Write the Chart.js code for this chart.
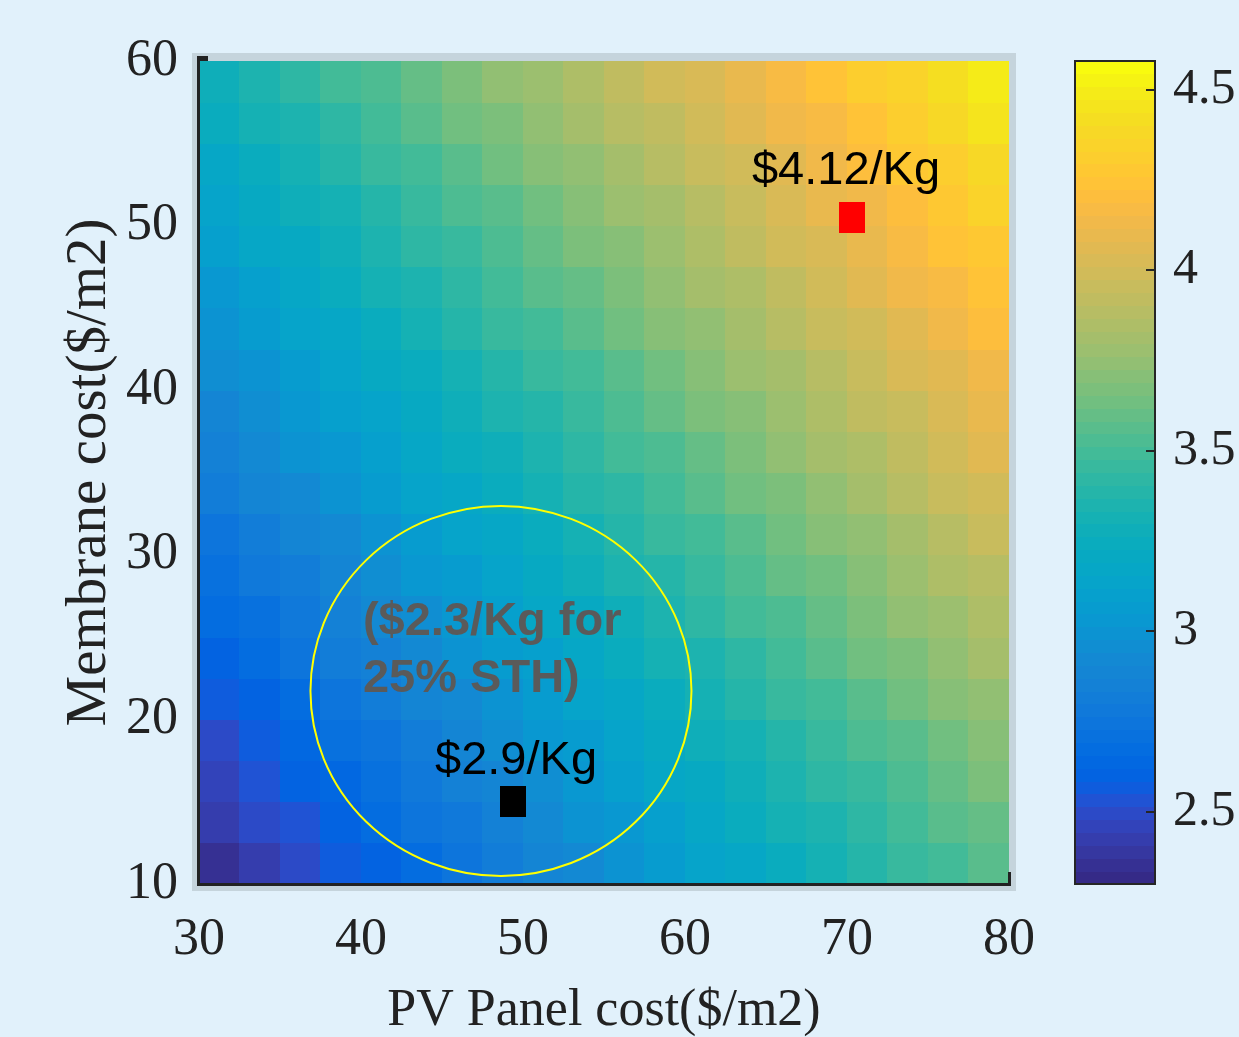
<!DOCTYPE html>
<html><head><meta charset="utf-8">
<script src="https://cdn.jsdelivr.net/npm/chart.js@4.4.1/dist/chart.umd.min.js"></script>
<style>
html,body{margin:0;padding:0;background:#e1f1fb;}
#wrap{position:relative;width:1239px;height:1037px;overflow:hidden;background:#e1f1fb;}
#main{position:absolute;left:0;top:0;}
#cbar{position:absolute;left:1060px;top:0;}
</style></head><body>
<div id="wrap"><canvas id="main" width="1239" height="1037"></canvas><canvas id="cbar" width="179" height="1037"></canvas></div>
<script>
// ---------- data ----------
// cell centres (PV panel cost, $/m2) and (membrane cost, $/m2)
const pvCellCenters = [31.25,33.75,36.25,38.75,41.25,43.75,46.25,48.75,51.25,53.75,56.25,58.75,61.25,63.75,66.25,68.75,71.25,73.75,76.25,78.75];
const membraneCellCenters = [11.25,13.75,16.25,18.75,21.25,23.75,26.25,28.75,31.25,33.75,36.25,38.75,41.25,43.75,46.25,48.75,51.25,53.75,56.25,58.75];
// hydrogen cost ($/Kg), one row per membrane cost (bottom row first)
const costGrid = [
 [2.37,2.43,2.49,2.55,2.62,2.68,2.74,2.81,2.87,2.93,3.00,3.06,3.12,3.18,3.25,3.31,3.37,3.44,3.50,3.56],
 [2.41,2.48,2.54,2.60,2.67,2.73,2.79,2.86,2.92,2.98,3.04,3.11,3.17,3.23,3.30,3.36,3.42,3.49,3.55,3.61],
 [2.46,2.53,2.59,2.65,2.71,2.78,2.84,2.90,2.97,3.03,3.09,3.16,3.22,3.28,3.34,3.41,3.47,3.53,3.60,3.66],
 [2.51,2.57,2.64,2.70,2.76,2.83,2.89,2.95,3.02,3.08,3.14,3.20,3.27,3.33,3.39,3.46,3.52,3.58,3.65,3.71],
 [2.56,2.62,2.69,2.75,2.81,2.87,2.94,3.00,3.06,3.13,3.19,3.25,3.32,3.38,3.44,3.50,3.57,3.63,3.69,3.76],
 [2.61,2.67,2.73,2.80,2.86,2.92,2.99,3.05,3.11,3.18,3.24,3.30,3.36,3.43,3.49,3.55,3.62,3.68,3.74,3.81],
 [2.66,2.72,2.78,2.85,2.91,2.97,3.03,3.10,3.16,3.22,3.29,3.35,3.41,3.48,3.54,3.60,3.66,3.73,3.79,3.85],
 [2.71,2.77,2.83,2.89,2.96,3.02,3.08,3.15,3.21,3.27,3.34,3.40,3.46,3.52,3.59,3.65,3.71,3.78,3.84,3.90],
 [2.75,2.82,2.88,2.94,3.01,3.07,3.13,3.19,3.26,3.32,3.38,3.45,3.51,3.57,3.64,3.70,3.76,3.82,3.89,3.95],
 [2.80,2.87,2.93,2.99,3.05,3.12,3.18,3.24,3.31,3.37,3.43,3.50,3.56,3.62,3.68,3.75,3.81,3.87,3.94,4.00],
 [2.85,2.91,2.98,3.04,3.10,3.17,3.23,3.29,3.35,3.42,3.48,3.54,3.61,3.67,3.73,3.80,3.86,3.92,3.98,4.05],
 [2.90,2.96,3.03,3.09,3.15,3.21,3.28,3.34,3.40,3.47,3.53,3.59,3.66,3.72,3.78,3.84,3.91,3.97,4.03,4.10],
 [2.95,3.01,3.07,3.14,3.20,3.26,3.33,3.39,3.45,3.51,3.58,3.64,3.70,3.77,3.83,3.89,3.96,4.02,4.08,4.14],
 [3.00,3.06,3.12,3.19,3.25,3.31,3.37,3.44,3.50,3.56,3.63,3.69,3.75,3.82,3.88,3.94,4.00,4.07,4.13,4.19],
 [3.04,3.11,3.17,3.23,3.30,3.36,3.42,3.49,3.55,3.61,3.67,3.74,3.80,3.86,3.93,3.99,4.05,4.12,4.18,4.24],
 [3.09,3.16,3.22,3.28,3.35,3.41,3.47,3.53,3.60,3.66,3.72,3.79,3.85,3.91,3.98,4.04,4.10,4.16,4.23,4.29],
 [3.14,3.20,3.27,3.33,3.39,3.46,3.52,3.58,3.65,3.71,3.77,3.83,3.90,3.96,4.02,4.09,4.15,4.21,4.28,4.34],
 [3.19,3.25,3.32,3.38,3.44,3.51,3.57,3.63,3.69,3.76,3.82,3.88,3.95,4.01,4.07,4.14,4.20,4.26,4.32,4.39],
 [3.24,3.30,3.36,3.43,3.49,3.55,3.62,3.68,3.74,3.81,3.87,3.93,3.99,4.06,4.12,4.18,4.25,4.31,4.37,4.44],
 [3.29,3.35,3.41,3.48,3.54,3.60,3.67,3.73,3.79,3.85,3.92,3.98,4.04,4.11,4.17,4.23,4.30,4.36,4.42,4.48]
];
const xTickValues = [30,40,50,60,70,80];
const yTickValues = [10,20,30,40,50,60];
const colorbarTicks = [2.5,3,3.5,4,4.5];
const colorRange = [2.30,4.58];
const highPoint = [{x:70.3,y:50.5}];
const lowPoint = [{x:49.4,y:15.0}];
const highLabelText = '$4.12/Kg';
const lowLabelText = '$2.9/Kg';
const noteLines = ['($2.3/Kg for','25% STH)'];

// ---------- styling / layout (not data) ----------
const annot = {
  high:{x:69.94,y:52.53},
  low:{x:49.57,y:16.68},
  note:{x:40.12,y:[25.13,21.66]},
  ring:{cx:48.64,cy:21.73,rx:11.76,ry:11.24}
};
const parula = [
[0.2081,0.1663,0.5292],[0.2116,0.1898,0.5777],[0.2123,0.2138,0.6270],[0.2081,0.2386,0.6771],
[0.1959,0.2645,0.7279],[0.1707,0.2919,0.7792],[0.1253,0.3242,0.8303],[0.0591,0.3598,0.8683],
[0.0117,0.3875,0.8820],[0.0060,0.4086,0.8828],[0.0165,0.4266,0.8786],[0.0329,0.4430,0.8720],
[0.0498,0.4586,0.8641],[0.0629,0.4737,0.8554],[0.0723,0.4887,0.8467],[0.0779,0.5040,0.8384],
[0.0793,0.5200,0.8312],[0.0749,0.5375,0.8263],[0.0641,0.5570,0.8240],[0.0488,0.5772,0.8228],
[0.0343,0.5966,0.8199],[0.0265,0.6137,0.8135],[0.0239,0.6287,0.8038],[0.0231,0.6418,0.7913],
[0.0228,0.6535,0.7768],[0.0267,0.6642,0.7607],[0.0384,0.6743,0.7436],[0.0590,0.6838,0.7254],
[0.0843,0.6928,0.7062],[0.1133,0.7015,0.6859],[0.1453,0.7098,0.6646],[0.1801,0.7177,0.6424],
[0.2178,0.7250,0.6193],[0.2586,0.7317,0.5954],[0.3022,0.7376,0.5712],[0.3482,0.7424,0.5473],
[0.3953,0.7459,0.5244],[0.4420,0.7481,0.5033],[0.4871,0.7491,0.4840],[0.5300,0.7491,0.4661],
[0.5709,0.7485,0.4494],[0.6099,0.7473,0.4337],[0.6473,0.7456,0.4188],[0.6834,0.7435,0.4044],
[0.7184,0.7411,0.3905],[0.7525,0.7384,0.3768],[0.7858,0.7356,0.3633],[0.8185,0.7327,0.3498],
[0.8507,0.7299,0.3360],[0.8824,0.7274,0.3217],[0.9139,0.7258,0.3063],[0.9450,0.7261,0.2886],
[0.9739,0.7314,0.2666],[0.9938,0.7455,0.2403],[0.9990,0.7653,0.2164],[0.9955,0.7861,0.1967],
[0.9880,0.8066,0.1794],[0.9789,0.8271,0.1633],[0.9697,0.8481,0.1475],[0.9626,0.8705,0.1309],
[0.9589,0.8949,0.1132],[0.9598,0.9218,0.0948],[0.9661,0.9514,0.0755],[0.9763,0.9831,0.0538]];
function cmapColor(i){const c=parula[i];return 'rgb('+Math.round(c[0]*255)+','+Math.round(c[1]*255)+','+Math.round(c[2]*255)+')';}
function colorFor(v){
  const t=(v-colorRange[0])/(colorRange[1]-colorRange[0]);
  const i=Math.min(parula.length-1,Math.max(0,Math.floor(t*parula.length)));
  return cmapColor(i);
}
function rectStyle(color,w,h){const c=document.createElement('canvas');c.width=w;c.height=h;const g=c.getContext('2d');g.fillStyle=color;g.fillRect(0,0,w,h);return c;}

Chart.defaults.font.family='Liberation Serif';
Chart.defaults.color='#222222';

const framePlugin={
  id:'frame',
  beforeDraw(chart){
    const {ctx,chartArea:a}=chart;
    ctx.save();
    ctx.fillStyle='#c5d4dc';
    ctx.fillRect(a.left-7,a.top-8,a.right-a.left+14,a.bottom-a.top+15);
    ctx.restore();
  }
};
const heatmapPlugin={
  id:'heatmap',
  beforeDatasetsDraw(chart){
    const {ctx,scales:{x,y}}=chart;
    const dx=pvCellCenters[1]-pvCellCenters[0];
    const dy=membraneCellCenters[1]-membraneCellCenters[0];
    ctx.save();
    membraneCellCenters.forEach((my,r)=>{
      const yt=Math.floor(y.getPixelForValue(my+dy/2));
      const yb=Math.ceil(y.getPixelForValue(my-dy/2));
      pvCellCenters.forEach((px,k)=>{
        const xl=Math.floor(x.getPixelForValue(px-dx/2));
        const xr=Math.ceil(x.getPixelForValue(px+dx/2));
        ctx.fillStyle=colorFor(costGrid[r][k]);
        ctx.fillRect(xl,yt,xr-xl,yb-yt);
      });
    });
    // axis lines
    const a=chart.chartArea;
    ctx.fillStyle='#222';
    ctx.fillRect(a.left-2,a.top-5,3,a.bottom-a.top+7);
    ctx.fillRect(a.left-2,a.bottom-1,a.right-a.left+4,3);
    ctx.fillRect(a.left-2,a.top-5,11,5);
    ctx.fillRect(a.right-1,a.bottom-12,3,12);
    // ring
    const r=annot.ring;
    const cx=x.getPixelForValue(r.cx), cy=y.getPixelForValue(r.cy);
    const rx=Math.abs(x.getPixelForValue(r.cx+r.rx)-cx), ry=Math.abs(y.getPixelForValue(r.cy+r.ry)-cy);
    ctx.beginPath();ctx.ellipse(cx,cy,rx,ry,0,0,Math.PI*2);
    ctx.strokeStyle='#ffff00';ctx.lineWidth=2;ctx.stroke();
    ctx.restore();
  },
  afterDatasetsDraw(chart){
    const {ctx,scales:{x,y}}=chart;
    ctx.save();
    ctx.textBaseline='alphabetic';
    ctx.textAlign='center';
    ctx.fillStyle='#000';
    ctx.font='47px "Liberation Sans", Arial, sans-serif';
    ctx.fillText(highLabelText,x.getPixelForValue(annot.high.x),y.getPixelForValue(annot.high.y));
    ctx.fillText(lowLabelText,x.getPixelForValue(annot.low.x),y.getPixelForValue(annot.low.y));
    ctx.textAlign='left';
    ctx.fillStyle='#5a5a5a';
    ctx.font='bold 47px "Liberation Sans", Arial, sans-serif';
    noteLines.forEach((t,i)=>ctx.fillText(t,x.getPixelForValue(annot.note.x),y.getPixelForValue(annot.note.y[i])));
    ctx.restore();
  }
};

new Chart(document.getElementById('main'),{
  type:'scatter',
  data:{datasets:[
    {label:'high',data:highPoint,pointStyle:rectStyle('#ff0000',26,31),pointRadius:15,pointHoverRadius:15},
    {label:'low',data:lowPoint,pointStyle:rectStyle('#000000',26,31),pointRadius:15,pointHoverRadius:15}
  ]},
  options:{
    responsive:false,animation:false,devicePixelRatio:1,
    layout:{padding:{left:0,right:230,top:61,bottom:0}},
    plugins:{legend:{display:false},tooltip:{enabled:false}},
    scales:{
      x:{type:'linear',min:xTickValues[0],max:xTickValues[xTickValues.length-1],
        afterFit(s){s.height=153;},
        afterBuildTicks(s){s.ticks=xTickValues.map(v=>({value:v}));},
        ticks:{font:{size:52},padding:25,color:'#222222'},
        grid:{display:false,drawTicks:false},border:{display:false},
        title:{display:true,text:'PV Panel cost($/m2)',font:{size:52,lineHeight:1},color:'#222222',padding:{top:0,bottom:0}}
      },
      y:{type:'linear',min:yTickValues[0],max:yTickValues[yTickValues.length-1],
        afterFit(s){s.width=199;},
        afterBuildTicks(s){s.ticks=yTickValues.map(v=>({value:v}));},
        ticks:{font:{size:52},padding:21,color:'#222222'},
        grid:{display:false,drawTicks:false},border:{display:false},
        title:{display:true,text:'Membrane cost($/m2)',font:{size:57,lineHeight:1},color:'#222222',padding:{top:62,bottom:0}}
      }
    }
  },
  plugins:[framePlugin,heatmapPlugin]
});

const colorbarPlugin={
  id:'colorbar',
  beforeDatasetsDraw(chart){
    const {ctx,chartArea:a,scales:{y}}=chart;
    ctx.save();
    const n=parula.length, span=colorRange[1]-colorRange[0];
    for(let i=0;i<n;i++){
      const y0=y.getPixelForValue(colorRange[0]+i*span/n);
      const y1=y.getPixelForValue(colorRange[0]+(i+1)*span/n);
      ctx.fillStyle=cmapColor(i);
      ctx.fillRect(a.left,Math.floor(y1),a.right-a.left,Math.ceil(y0)-Math.floor(y1));
    }
    ctx.strokeStyle='#262626';ctx.lineWidth=2;
    ctx.strokeRect(a.left,a.top,a.right-a.left,a.bottom-a.top);
    ctx.fillStyle='#262626';
    colorbarTicks.forEach(v=>{const py=y.getPixelForValue(v);ctx.fillRect(a.right-9,Math.round(py)-1,9,2);});
    ctx.restore();
  }
};
new Chart(document.getElementById('cbar'),{
  type:'scatter',
  data:{datasets:[]},
  options:{
    responsive:false,animation:false,devicePixelRatio:1,
    layout:{padding:{left:15,right:0,top:61,bottom:153}},
    plugins:{legend:{display:false},tooltip:{enabled:false}},
    scales:{
      x:{display:false,min:0,max:1},
      y:{position:'right',min:colorRange[0],max:colorRange[1],
        afterFit(s){s.width=84;},
        afterBuildTicks(s){s.ticks=colorbarTicks.map(v=>({value:v}));},
        ticks:{font:{size:50},padding:18,color:'#222222',callback:v=>String(v)},
        grid:{display:false,drawTicks:false},border:{display:false}
      }
    }
  },
  plugins:[colorbarPlugin]
});
</script>
</body></html>
